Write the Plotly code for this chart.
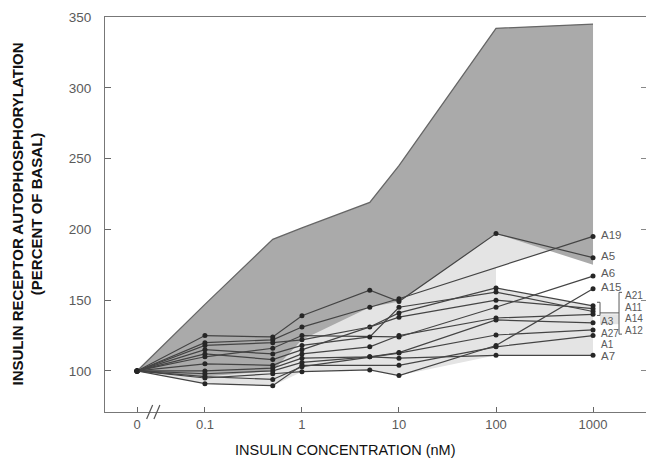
import numpy as np
import plotly.graph_objects as go

# ---------------- data ----------------
conc = [0, 0.1, 0.5, 1, 5, 10, 100, 1000]
tick_conc = [0, 0.1, 1, 10, 100, 1000]
tick_labels = ["0", "0.1", "1", "10", "100", "1000"]
y_ticks = [100, 150, 200, 250, 300, 350]

normal_upper = [100, 147, 193, 201, 219, 245, 342, 345]
normal_lower = [100, 96, 100, 122, 145, 149, 197, 175]

A19 = [100, 120, 122, 131, 145, 151, None, 195]
A5 = [100, 125, 124, 139, 157, 149, 197, 180]
A6 = [100, 110, 116, 125, None, 124, 145, 167]
A15 = [100, 95, 98, 99.5, 100.7, 96.7, 118, 158]
A21 = [100, 118, 120, 122, 131, 141, 158.6, 146]
A11 = [100, 112, 108, 115, None, 138, 150, 144]
A14 = [100, 115, 112, 118, 124, 145, 155.7, 142]
A12 = [100, 105, 104, 112, 117, 125, 137.4, 140]
A3 = [100, 100, 102, 109, 110, 113, 136, 134]
A27 = [100, 96, 94, 103, None, 112.6, 125.4, 129]
A1 = [100, 91, 89.6, 104, None, 104, 117, 125]
A7 = [100, 98, 100, 106, 110, 109, 111, 111]

patients = {"A19": A19, "A5": A5, "A6": A6, "A15": A15, "A21": A21, "A11": A11,
            "A14": A14, "A12": A12, "A3": A3, "A27": A27, "A1": A1, "A7": A7}
cluster = ["A21", "A11", "A14", "A12", "A3", "A27", "A1", "A7"]
bracket_group = ["A21", "A11", "A14", "A12"]

# ---------------- styling / placement ----------------
ZERO_POS = -1.7          # position of the "0" dose on the broken log axis
DARK = "#aaaaaa"
LIGHT = "#e4e4e4"
LINE = "#444444"
MARK = "#262626"
TXT = "#5a5a5a"
FONT = "Liberation Sans"

# label y positions (data units) at the right side
label_y = {"A19": 196, "A5": 181, "A6": 169, "A15": 159, "A3": 134.6, "A27": 126.5,
           "A1": 118.4, "A7": 110.6, "A21": 153.0, "A11": 144.8, "A14": 136.7, "A12": 128.6}
tight = {"A21", "A11", "A14", "A12", "A3", "A27", "A1"}


def xpos(c):
    return ZERO_POS if c == 0 else float(np.log10(c))


xs = [xpos(c) for c in conc]
fig = go.Figure()


def poly(px, py, color):
    fig.add_trace(go.Scatter(x=px, y=py, mode="lines", fill="toself", fillcolor=color,
                             line=dict(width=0), hoverinfo="skip", showlegend=False))


# light envelope of all patients from 0 to 100 nM
hi, lo = [], []
for i in range(7):
    v = [p[i] for p in patients.values() if p[i] is not None]
    hi.append(max(v)); lo.append(min(v))
poly(xs[:7] + xs[:7][::-1], hi + lo[::-1], LIGHT)

# light envelope of the clustered patients from 100 to 1000 nM
hi2, lo2 = [], []
for i in (6, 7):
    v = [patients[k][i] for k in cluster]
    hi2.append(max(v)); lo2.append(min(v))
poly([xs[6], xs[7], xs[7], xs[6]], hi2 + lo2[::-1], LIGHT)

# light wedge between A5 and A19 above 10 nM
idx5 = [i for i in range(5, 8) if A5[i] is not None]
idx19 = [i for i in range(5, 8) if A19[i] is not None][::-1]
poly([xs[i] for i in idx5] + [xs[i] for i in idx19],
     [A5[i] for i in idx5] + [A19[i] for i in idx19], LIGHT)

# dark normal range
poly(xs + xs[::-1], normal_upper + normal_lower[::-1], DARK)
fig.add_trace(go.Scatter(x=xs, y=normal_upper, mode="lines",
                         line=dict(color="#666666", width=1.3),
                         hoverinfo="skip", showlegend=False))

# patient lines
for name, vals in patients.items():
    fig.add_trace(go.Scatter(x=xs, y=vals, mode="lines+markers", connectgaps=True,
                             line=dict(color=LINE, width=1.2),
                             marker=dict(color=MARK, size=5),
                             name=name, showlegend=False))

# dummy trace for right-side ticks
fig.add_trace(go.Scatter(x=[None], y=[None], yaxis="y2", showlegend=False, hoverinfo="skip"))

# labels
x_end = xpos(conc[-1])
for name in patients:
    shift = 30 if name in bracket_group else 6
    fig.add_annotation(x=x_end, y=label_y[name], text=name, showarrow=False,
                       xanchor="left", yanchor="middle", xshift=shift,
                       font=dict(family=FONT, size=10 if name in tight else 11.5,
                                 color=TXT))

shapes = []
# small bracket, connector, big bracket
grp = [patients[k][-1] for k in bracket_group]
lo_g, hi_g = min(grp) - 0.8, max(grp) + 2.5


def seg(x0, x1, y0, y1, color=TXT, w=1):
    shapes.append(dict(type="line", xref="x", yref="y", xsizemode="pixel", xanchor=x_end,
                       x0=x0, x1=x1, y0=y0, y1=y1, line=dict(color=color, width=w)))


shapes.append(dict(type="rect", xref="x", yref="y", xsizemode="pixel", xanchor=x_end,
                   x0=7, x1=26, y0=133, y1=140, fillcolor=LIGHT, line=dict(width=0),
                   layer="below"))
seg(4, 7, hi_g, hi_g); seg(7, 7, hi_g, lo_g); seg(4, 7, lo_g, lo_g)
seg(7, 26, 141, 141)
seg(26, 26, 155.5, 126); seg(26, 29, 155.5, 155.5); seg(26, 29, 126, 126)

# axis break marks
for xb in (-1.57, -1.495):
    shapes.append(dict(type="line", xref="x", yref="paper", xsizemode="pixel",
                       ysizemode="pixel", xanchor=xb, yanchor=0,
                       x0=-3, x1=3, y0=-7, y1=7, line=dict(color="#555", width=1.2)))

fig.update_layout(
    width=646, height=459,
    margin=dict(l=105, r=0, t=17, b=47),
    paper_bgcolor="white", plot_bgcolor="white",
    shapes=shapes,
    xaxis=dict(range=[-2.03, 3.546], tickvals=[xpos(c) for c in tick_conc],
               ticktext=tick_labels, ticks="inside", ticklen=5, tickcolor="#666",
               showline=True, linecolor="#777", linewidth=1.2, mirror=True,
               showgrid=False, zeroline=False,
               tickfont=dict(family=FONT, size=13, color=TXT)),
    yaxis=dict(range=[71, 350], tickvals=y_ticks, ticks="inside", ticklen=6,
               tickcolor="#666", showline=True, linecolor="#777", linewidth=1.2,
               showgrid=False, zeroline=False, ticklabelstandoff=10,
               tickfont=dict(family=FONT, size=13.5, color=TXT)),
    yaxis2=dict(range=[71, 350], tickvals=y_ticks, overlaying="y", side="right",
                ticks="inside", ticklen=5, tickcolor="#888", showline=False,
                showticklabels=False, showgrid=False, zeroline=False),
)

fig.add_annotation(xref="paper", yref="paper", x=(345 - 105) / 541, y=(412 - 450) / 395,
                   text="INSULIN CONCENTRATION (nM)", showarrow=False,
                   xanchor="center", yanchor="middle",
                   font=dict(family=FONT, size=14.5, color="#111"))
fig.add_annotation(xref="paper", yref="paper", x=(27 - 105) / 541, y=0.5,
                   text="<b>INSULIN RECEPTOR AUTOPHOSPHORYLATION<br>(PERCENT OF BASAL)</b>",
                   showarrow=False, textangle=-90, xanchor="center", yanchor="middle",
                   font=dict(family=FONT, size=15, color="#111"))

fig.write_html("out.html", config={"displayModeBar": False},
               post_script="document.body.style.margin='0';")
